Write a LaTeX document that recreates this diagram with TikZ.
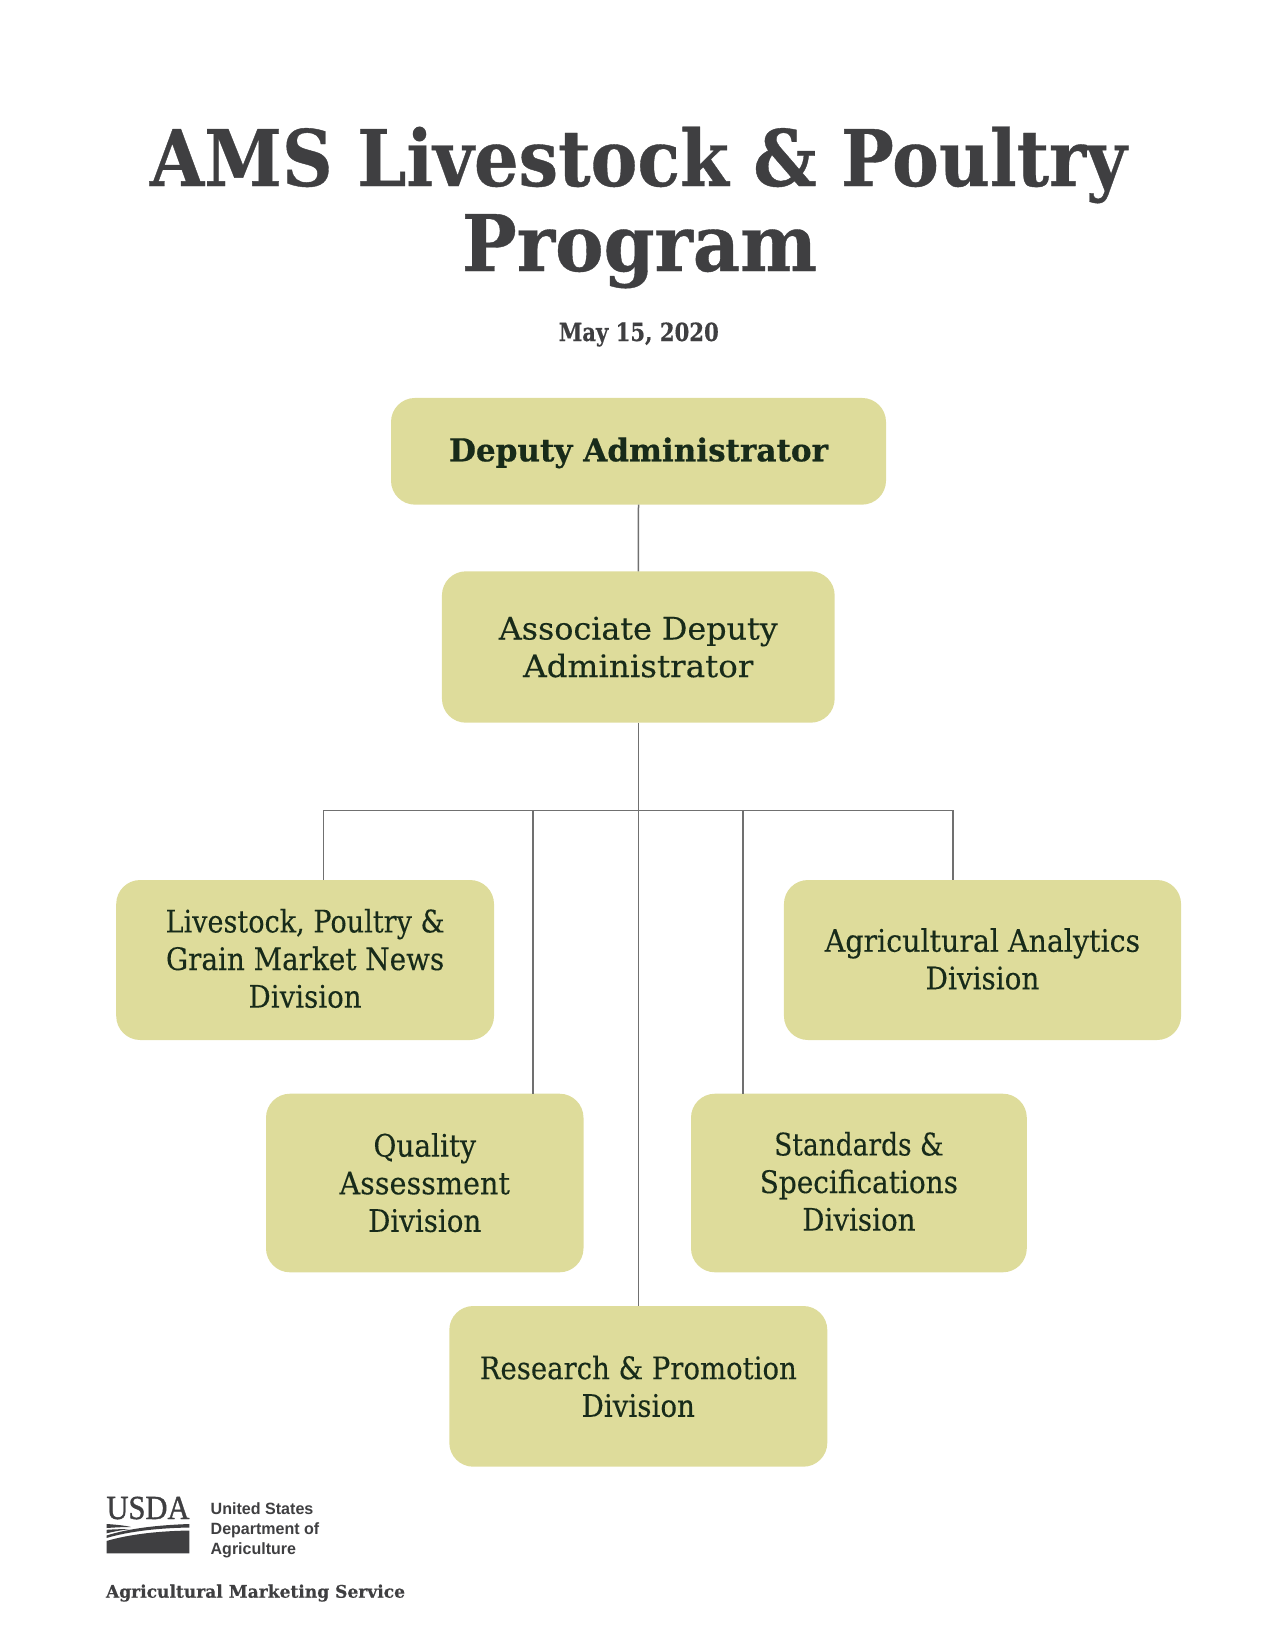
\documentclass[tikz,border=0pt]{standalone}
\usepackage{fontspec}
\usepackage{graphicx}
\setmainfont{DejaVu Serif}
\newfontfamily\headfont[UprightFont={* Bold},FakeBold=0.5]{DejaVu Serif}
\newfontfamily\boxfont[FakeBold=0.25]{DejaVu Serif}
\newfontfamily\usdafont[FakeBold=1.2]{Liberation Serif}
\newfontfamily\govfont{Liberation Sans}
\definecolor{ink}{HTML}{3F3F41}
\definecolor{boxfill}{HTML}{DEDC9B}
\definecolor{boxink}{HTML}{182B1A}
\definecolor{wire}{HTML}{707070}
\newsavebox\fitbox
\newcommand\fitw[2]{\sbox\fitbox{#2}\pgfmathsetmacro\fitr{#1/\the\wd\fitbox}\scalebox{\fitr}[1]{\usebox\fitbox}}
\newcommand\tl[2]{\rule[-6pt]{0pt}{\dimexpr \stx*2+12pt\relax}\fitw{#1}{#2}}
\tikzset{
  orgbox/.style={rectangle,fill=boxfill,rounded corners=24pt,inner sep=0pt,outer sep=0pt,
    text=boxink,align=center,font=\boxfont\fontsize{31}{37.6}\selectfont},
  off/.style={execute at begin node={\def\stx{#1pt}}},
  plain/.style={anchor=base,inner sep=0pt,outer sep=0pt,text=ink},
  wireline/.style={draw=wire,line width=1.5pt}
}
\begin{document}
\begin{tikzpicture}[x=1pt,y=-1pt]
\useasboundingbox (0,0) rectangle (1276,1651);
% title
\node[plain,font=\headfont\fontsize{78}{78}\selectfont] (title1) at (638.3,186) {\fitw{977}{AMS Livestock \& Poultry}};
\node[plain,font=\headfont\fontsize{78}{78}\selectfont] (title2) at (639.5,271) {\fitw{355}{Program}};
\node[plain,font=\headfont\fontsize{25}{25}\selectfont] (date) at (638.8,341) {\fitw{160}{May 15, 2020}};
% boxes
\node[orgbox,off=10.5,minimum width=495pt,minimum height=106.7pt,font=\headfont\fontsize{31.5}{37.6}\selectfont] (dep) at (638.5,451.3) {\tl{379}{Deputy Administrator}};
\node[orgbox,off=11.3,minimum width=392.7pt,minimum height=151.4pt] (assoc) at (638.3,647) {\tl{279}{Associate Deputy}\\\tl{230.3}{Administrator}};
\node[orgbox,off=10,minimum width=377.8pt,minimum height=160pt] (live) at (305.1,960) {\tl{279}{Livestock, Poultry \&}\\\tl{278.3}{Grain Market News}\\\tl{113}{Division}};
\node[orgbox,off=10.5,minimum width=397.1pt,minimum height=160pt] (agri) at (982.5,960) {\tl{315.4}{Agricultural Analytics}\\\tl{113.6}{Division}};
\node[orgbox,off=11.2,minimum width=317.5pt,minimum height=178.6pt] (qual) at (424.75,1183) {\tl{102.6}{Quality}\\\tl{170.5}{Assessment}\\\tl{113}{Division}};
\node[orgbox,off=10,minimum width=335.8pt,minimum height=178.6pt] (stan) at (858.9,1183) {\tl{169.3}{Standards \&}\\\tl{198.2}{Specifications}\\\tl{113.2}{Division}};
\node[orgbox,off=11.6,minimum width=378pt,minimum height=160.7pt] (res) at (638.3,1386.35) {\tl{317}{Research \& Promotion}\\\tl{113.3}{Division}};
% connectors
\coordinate (busL) at (323.3,810.5);
\coordinate (busQ) at (533,810.5);
\coordinate (busS) at (743.2,810.5);
\coordinate (busR) at (953.2,810.5);
\draw[wireline] (dep.south) -- (assoc.north);
\draw[wireline] (assoc.south) -- (res.north);
\draw[wireline,line join=miter] (live.north -| busL) -- (busL) -- (busR) -- (agri.north -| busR);
\draw[wireline] (busQ) -- (busQ |- qual.north);
\draw[wireline] (busS) -- (busS |- stan.north);
% USDA mark
\node[plain,font=\usdafont\fontsize{33.7}{33.7}\selectfont] (usda) at (148,1519) {\fitw{83}{USDA}};
\fill[ink] (106.5,1553.3) -- (189.3,1553.3) -- (189.3,1530.5) .. controls (160,1531) and (130,1534) .. (106.5,1541) -- cycle;
\fill[ink] (189.3,1524) -- (189.3,1527.5) .. controls (160,1528) and (130,1531) .. (106.5,1538) -- (106.5,1535.5) .. controls (130,1528) and (160,1525) .. cycle;
\fill[ink] (106.5,1524) .. controls (115,1524.5) and (125,1525.5) .. (131,1527) .. controls (122,1527) and (114,1527.5) .. (106.5,1528) -- cycle;
\fill[ink] (106.5,1529.8) .. controls (114,1529.3) and (124,1529) .. (130,1529) .. controls (122,1530) and (114,1531.5) .. (106.5,1533.3) -- cycle;
\node[plain,anchor=base west,font=\govfont\fontsize{16.3}{16.3}\bfseries] (gov1) at (210.7,1514.3) {\fitw{102.7}{United States}};
\node[plain,anchor=base west,font=\govfont\fontsize{16.3}{16.3}\bfseries] (gov2) at (210.7,1534) {\fitw{108.6}{Department of}};
\node[plain,anchor=base west,font=\govfont\fontsize{16.3}{16.3}\bfseries] (gov3) at (210.7,1554) {\fitw{85.3}{Agriculture}};
\node[plain,anchor=base west,font=\headfont\fontsize{17.4}{17.4}\selectfont] (ams) at (106,1597.7) {\fitw{299}{Agricultural Marketing Service}};
\end{tikzpicture}
\end{document}
